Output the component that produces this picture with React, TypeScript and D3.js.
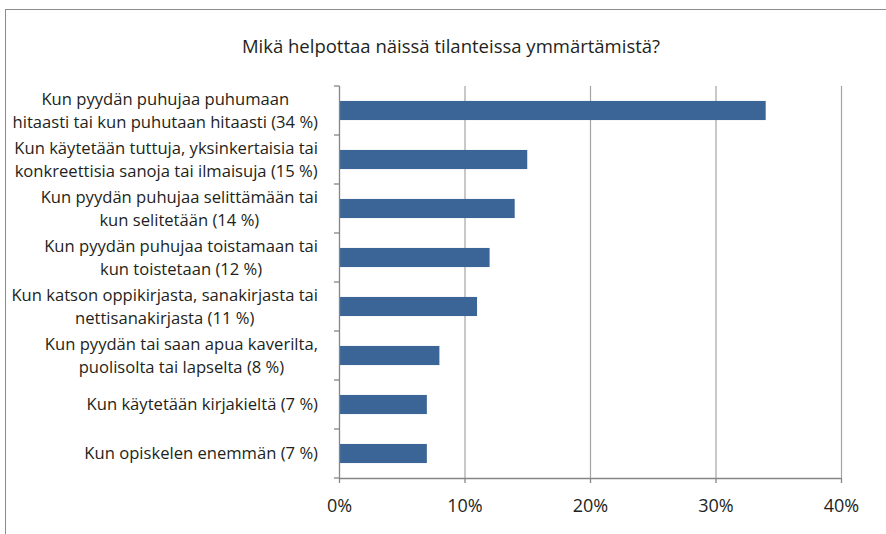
import { useEffect, useRef } from 'react'
import * as d3 from 'd3'

const title = 'Mikä helpottaa näissä tilanteissa ymmärtämistä?'

const categories: string[][] = [
  ['Kun pyydän puhujaa puhumaan', 'hitaasti tai kun puhutaan hitaasti (34 %)'],
  ['Kun käytetään tuttuja, yksinkertaisia tai', 'konkreettisia sanoja tai ilmaisuja (15 %)'],
  ['Kun pyydän puhujaa selittämään tai', 'kun selitetään (14 %)'],
  ['Kun pyydän puhujaa toistamaan tai', 'kun toistetaan (12 %)'],
  ['Kun katson oppikirjasta, sanakirjasta tai', 'nettisanakirjasta (11 %)'],
  ['Kun pyydän tai saan apua kaverilta,', 'puolisolta tai lapselta (8 %)'],
  ['Kun käytetään kirjakieltä (7 %)'],
  ['Kun opiskelen enemmän (7 %)'],
]

const values = [34, 15, 14, 12, 11, 8, 7, 7]

const xTicks = [0, 10, 20, 30, 40]

export default function App() {
  const svgRef = useRef<SVGSVGElement>(null)

  useEffect(() => {
    if (!svgRef.current) return
    const width = 886
    const height = 534
    const svg = d3.select(svgRef.current)
    svg.selectAll('*').remove()

    const font = '"Open Sans", "DejaVu Sans", sans-serif'
    const textColor = '#231f20'
    const axisColor = '#868686'

    // outer frame (cropped at right and bottom)
    svg.append('rect')
      .attr('x', 5.5)
      .attr('y', 9.5)
      .attr('width', width + 20)
      .attr('height', height + 20)
      .attr('fill', 'white')
      .attr('stroke', '#8c8c8c')
      .attr('stroke-width', 1)

    const margin = { top: 86, left: 339 }
    const innerWidth = 841 - margin.left
    const innerHeight = 478 - margin.top

    const g = svg.append('g')
      .attr('transform', `translate(${margin.left},${margin.top})`)

    const x = d3.scaleLinear().domain([0, 40]).range([0, innerWidth])
    const y = d3.scaleBand<number>()
      .domain(d3.range(categories.length))
      .range([0, innerHeight])
      .paddingInner(0.61)
      .paddingOuter(0.305)

    // gridlines
    g.selectAll('.grid')
      .data(xTicks.filter(d => d > 0))
      .enter().append('line')
      .attr('x1', d => x(d) + 0.5)
      .attr('x2', d => x(d) + 0.5)
      .attr('y1', 0)
      .attr('y2', innerHeight)
      .attr('stroke', '#a3a3a3')
      .attr('stroke-width', 1.2)

    // bars
    g.selectAll('.bar')
      .data(values)
      .enter().append('rect')
      .attr('x', 1)
      .attr('y', (_, i) => y(i)!)
      .attr('width', d => x(d) - 1)
      .attr('height', y.bandwidth())
      .attr('fill', '#3a6596')

    // left axis
    const step = innerHeight / categories.length
    g.append('line')
      .attr('x1', 0.5).attr('x2', 0.5)
      .attr('y1', 0).attr('y2', innerHeight)
      .attr('stroke', axisColor).attr('stroke-width', 1.3)
    g.selectAll('.ytick')
      .data(d3.range(categories.length + 1))
      .enter().append('line')
      .attr('x1', -5).attr('x2', 0.5)
      .attr('y1', d => d * step).attr('y2', d => d * step)
      .attr('stroke', axisColor).attr('stroke-width', 1.3)

    // bottom axis
    const xAxis = d3.axisBottom(x)
      .tickValues(xTicks)
      .tickSize(5)
      .tickFormat(d => `${d}%`)
    const xg = g.append('g')
      .attr('transform', `translate(0,${innerHeight})`)
      .call(xAxis)
    xg.select('.domain').attr('stroke', axisColor).attr('stroke-width', 1.3)
      .attr('d', `M0.5,0.5H${innerWidth + 0.5}`)
    xg.selectAll('.tick line').attr('stroke', axisColor).attr('stroke-width', 1.3)
    xg.selectAll('.tick text')
      .attr('y', 34)
      .attr('dy', 0)
      .attr('fill', textColor)
      .style('font-family', font)
      .style('font-size', '18px')

    // category labels: lines centered on each other, block right-aligned
    const labelRight = 318
    categories.forEach((lines, i) => {
      const cy = margin.top + (i + 0.5) * step
      const lg = svg.append('g')
      const lineH = 22.5
      const texts = lines.map((ln, j) => lg.append('text')
        .attr('y', cy + (j - (lines.length - 1) / 2) * lineH)
        .attr('dy', '0.35em')
        .attr('text-anchor', 'middle')
        .attr('fill', textColor)
        .style('font-family', font)
        .style('font-size', '16.6px')
        .text(ln))
      const maxW = d3.max(texts, t => (t.node() as SVGTextElement).getComputedTextLength()) || 0
      texts.forEach(t => t.attr('x', labelRight - maxW / 2))
    })

    // title
    svg.append('text')
      .attr('x', 451)
      .attr('y', 53)
      .attr('text-anchor', 'middle')
      .attr('fill', textColor)
      .style('font-family', font)
      .style('font-size', '18.5px')
      .text(title)
  }, [])

  return (
    <svg
      ref={svgRef}
      width={886}
      height={534}
      style={{ position: 'absolute', left: 0, top: 0, display: 'block' }}
    />
  )
}
